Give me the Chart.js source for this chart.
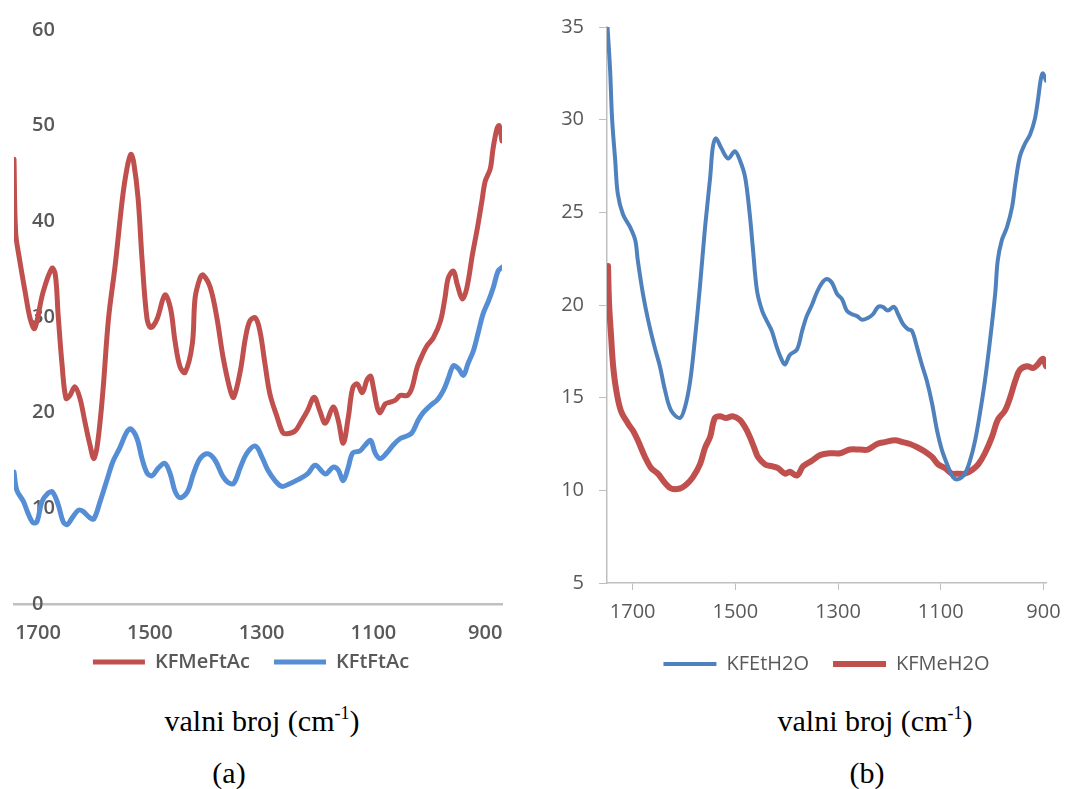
<!DOCTYPE html>
<html>
<head>
<meta charset="utf-8">
<script src="https://cdn.jsdelivr.net/npm/chart.js@4.4.1/dist/chart.umd.min.js"></script>
<style>
  body { margin: 0; width: 1068px; height: 789px; background: #fff; position: relative; overflow: hidden; }
  .wrap { position: absolute; overflow: hidden; }
  .cap { position: absolute; width: 400px; text-align: center; font-family: "Liberation Serif", "Times New Roman", serif; font-size: 30px; line-height: 30px; color: #000; }
  .cap sup { font-size: 18px; line-height: 0; vertical-align: 12px; }
</style>
</head>
<body>
<div class="wrap" style="left:0; top:0; width:520px; height:669px;">
  <canvas id="chartA" width="520" height="682"></canvas>
</div>
<div class="wrap" style="left:540px; top:0; width:528px; height:670px;">
  <canvas id="chartB" width="528" height="684"></canvas>
</div>
<div class="cap" style="left:62px; top:706px;">valni broj (cm<sup>-1</sup>)</div>
<div class="cap" style="left:675px; top:706px;">valni broj (cm<sup>-1</sup>)</div>
<div class="cap" style="left:29px; top:758px;">(a)</div>
<div class="cap" style="left:667px; top:758px;">(b)</div>
<script>
// (a) KFMeFtAc
const wnMeFtAc = [1743, 1740, 1733, 1723, 1714, 1706, 1691, 1675, 1669, 1664,
  1657, 1650, 1643, 1634, 1625, 1616, 1607, 1600, 1593, 1584,
  1574, 1562, 1549, 1541, 1534, 1529, 1521, 1514, 1505, 1498,
  1487, 1473, 1463, 1455, 1446, 1437, 1424, 1419, 1410, 1405,
  1392, 1380, 1369, 1356, 1350, 1338, 1329, 1321, 1311, 1303,
  1294, 1285, 1272, 1262, 1254, 1240, 1228, 1218, 1206, 1196,
  1186, 1172, 1163, 1154, 1145, 1137, 1129, 1120, 1111, 1105,
  1100, 1093, 1088, 1079, 1070, 1061, 1052, 1039, 1031, 1022,
  1012, 1004, 993, 980, 972, 966, 957, 950, 941, 933,
  923, 914, 906, 900, 891, 886, 879, 875, 870];
const valMeFtAc = [46.5, 38.8, 36.0, 32.6, 29.8, 28.8, 32.6, 35.1, 34.4, 30.2,
  25.0, 21.5, 21.8, 22.7, 21.5, 19.0, 16.6, 15.2, 17.0, 22.2,
  29.8, 35.4, 42.4, 45.5, 47.0, 46.2, 42.4, 36.1, 29.8, 28.9,
  29.8, 32.3, 30.9, 27.5, 24.8, 24.2, 27.2, 32.0, 34.1, 34.4,
  33.1, 29.9, 25.8, 22.3, 21.6, 24.4, 27.8, 29.6, 29.9, 28.5,
  25.1, 21.9, 19.5, 17.9, 17.8, 18.1, 19.2, 20.2, 21.6, 20.2,
  18.9, 20.6, 19.2, 16.8, 19.5, 22.6, 23.0, 22.1, 23.5, 23.8,
  22.6, 20.5, 20.0, 20.9, 21.1, 21.3, 21.8, 21.8, 22.6, 24.7,
  26.1, 27.0, 27.8, 29.6, 32.0, 34.1, 34.8, 33.4, 31.9, 33.0,
  36.5, 39.3, 42.1, 44.2, 45.5, 47.6, 49.7, 50.0, 48.4];

// (a) KFtFtAc
const wnEtFtAc = [1743, 1738, 1726, 1718, 1709, 1702, 1693, 1682, 1674, 1664,
  1655, 1648, 1639, 1628, 1620, 1607, 1600, 1589, 1576, 1566,
  1554, 1541, 1534, 1523, 1514, 1505, 1496, 1485, 1473, 1463,
  1455, 1446, 1433, 1422, 1410, 1396, 1383, 1370, 1360, 1350,
  1338, 1326, 1311, 1299, 1289, 1276, 1264, 1249, 1235, 1218,
  1204, 1186, 1172, 1163, 1154, 1145, 1137, 1124, 1115, 1105,
  1097, 1088, 1076, 1065, 1052, 1039, 1031, 1020, 1011, 999,
  985, 975, 966, 957, 948, 939, 931, 921, 912, 904,
  894, 886, 877, 870];
const valEtFtAc = [13.8, 11.9, 10.7, 9.5, 8.5, 8.6, 10.7, 11.6, 11.7, 10.4,
  8.6, 8.3, 9.0, 9.8, 9.7, 9.0, 8.9, 10.7, 13.1, 14.9,
  16.3, 18.0, 18.3, 17.3, 15.2, 13.7, 13.4, 14.2, 14.7, 13.5,
  11.8, 11.1, 11.7, 13.6, 15.2, 15.7, 15.0, 13.4, 12.7, 12.6,
  14.3, 15.8, 16.5, 15.3, 14.0, 12.9, 12.3, 12.6, 13.0, 13.6,
  14.5, 13.6, 14.3, 14.0, 12.9, 14.3, 15.8, 16.0, 16.6, 17.1,
  15.8, 15.2, 15.8, 16.6, 17.3, 17.6, 17.9, 19.2, 20.0, 20.7,
  21.4, 22.3, 23.6, 24.9, 24.6, 23.9, 25.1, 26.5, 28.5, 30.3,
  31.7, 33.0, 34.8, 35.2];

// (b) KFEtH2O
const wnEtH2O = [1749, 1744, 1740, 1734, 1729, 1719, 1705, 1695, 1690, 1680,
  1670, 1657, 1647, 1637, 1625, 1608, 1598, 1588, 1579, 1569,
  1559, 1549, 1544, 1538, 1528, 1514, 1501, 1491, 1481, 1472,
  1466, 1458, 1448, 1438, 1429, 1419, 1409, 1403, 1394, 1380,
  1370, 1361, 1351, 1341, 1331, 1322, 1312, 1302, 1292, 1283,
  1273, 1263, 1253, 1242, 1232, 1222, 1213, 1203, 1191, 1183,
  1174, 1164, 1156, 1146, 1137, 1127, 1117, 1107, 1098, 1086,
  1076, 1066, 1053, 1043, 1033, 1024, 1014, 1004, 994, 989,
  981, 971, 961, 955, 946, 936, 926, 917, 911, 905,
  901, 895];
const valEtH2O = [35.0, 32.7, 30.0, 27.8, 26.0, 24.9, 24.2, 23.5, 22.4, 20.6,
  19.2, 17.7, 16.7, 15.4, 14.3, 13.9, 14.5, 15.9, 18.1, 21.0,
  24.2, 26.9, 28.5, 29.0, 28.5, 27.9, 28.3, 27.8, 26.9, 24.9,
  23.1, 20.8, 19.7, 19.1, 18.6, 17.7, 17.0, 16.8, 17.3, 17.6,
  18.6, 19.4, 20.0, 20.7, 21.2, 21.4, 21.2, 20.6, 20.3, 19.7,
  19.5, 19.4, 19.2, 19.3, 19.5, 19.9, 19.9, 19.7, 19.9, 19.5,
  19.0, 18.7, 18.6, 17.7, 16.8, 15.9, 14.7, 13.2, 12.2, 11.3,
  10.7, 10.6, 10.9, 11.6, 12.7, 14.1, 15.9, 18.1, 20.6, 22.4,
  23.5, 24.2, 25.3, 26.5, 28.0, 28.7, 29.2, 30.0, 31.0, 32.2,
  32.5, 32.1];

// (b) KFMeH2O
const wnMeH2O = [1748, 1746, 1742, 1738, 1732, 1723, 1709, 1699, 1690, 1676,
  1664, 1651, 1637, 1625, 1608, 1596, 1583, 1569, 1559, 1549,
  1540, 1530, 1518, 1505, 1491, 1481, 1472, 1462, 1456, 1442,
  1429, 1417, 1403, 1394, 1380, 1368, 1351, 1335, 1316, 1296,
  1277, 1257, 1242, 1224, 1209, 1189, 1174, 1160, 1144, 1131,
  1117, 1105, 1092, 1078, 1066, 1053, 1039, 1027, 1014, 1000,
  989, 975, 965, 955, 946, 932, 920, 911, 901, 895];
const valMeH2O = [22.1, 20.1, 18.3, 16.7, 15.4, 14.3, 13.6, 13.2, 12.7, 11.8,
  11.2, 10.9, 10.4, 10.1, 10.1, 10.3, 10.7, 11.4, 12.3, 12.9,
  13.9, 14.0, 13.9, 14.0, 13.8, 13.4, 12.9, 12.2, 11.8, 11.4,
  11.3, 11.2, 10.9, 11.0, 10.8, 11.3, 11.6, 11.9, 12.0, 12.0,
  12.2, 12.2, 12.2, 12.5, 12.6, 12.7, 12.6, 12.5, 12.3, 12.1,
  11.8, 11.4, 11.2, 10.9, 10.9, 10.9, 11.1, 11.4, 12.0, 12.9,
  13.8, 14.3, 15.0, 15.9, 16.5, 16.7, 16.6, 16.8, 17.1, 16.7];

const xTickValues = [1700, 1500, 1300, 1100, 900];
const yTicksA = [0, 10, 20, 30, 40, 50, 60];
const yTicksB = [5, 10, 15, 20, 25, 30, 35];

const toPoints = (xs, ys) => xs.map((x, i) => ({ x: x, y: ys[i] }));
const setTicks = (values) => (scale) => {
  scale.ticks = values.map((v) => ({ value: v }));
};
const plain = (v) => String(v);

Chart.defaults.font.family = "'Open Sans', sans-serif";
Chart.defaults.color = "#595959";
Chart.defaults.animation = false;

const labelGrey = "#595959";
const axisGrey = "#bfbfbf";

new Chart(document.getElementById("chartA"), {
  type: "line",
  data: {
    datasets: [
      {
        label: "KFMeFtAc",
        data: toPoints(wnMeFtAc, valMeFtAc),
        borderColor: "#c0504d",
        backgroundColor: "#c0504d",
        borderWidth: 5,
      },
      {
        label: "KFtFtAc",
        data: toPoints(wnEtFtAc, valEtFtAc),
        borderColor: "#558ed5",
        backgroundColor: "#558ed5",
        borderWidth: 5,
      },
    ],
  },
  options: {
    responsive: false,
    elements: { point: { radius: 0 }, line: { tension: 0.35, borderCapStyle: "round" } },
    layout: { padding: { left: 0, right: 18, top: 26, bottom: 0 } },
    plugins: {
      tooltip: { enabled: false },
      legend: {
        position: "bottom",
        labels: {
          usePointStyle: true,
          pointStyle: "line",
          pointStyleWidth: 52,
          padding: 24,
          color: labelGrey,
          font: { size: 20, weight: "600" },
        },
      },
    },
    scales: {
      x: {
        type: "linear",
        reverse: true,
        min: 870,
        max: 1743,
        afterBuildTicks: setTicks(xTickValues),
        afterFit: (s) => { s.height = 24; },
        grid: { display: false, drawTicks: false },
        border: { display: true, color: "#c0c0c0", width: 2.5 },
        // mirrored ticks are not clipped to the short axis box
        ticks: { mirror: true, padding: -41, callback: plain, color: labelGrey, font: { size: 20, weight: "600" } },
      },
      y: {
        min: 0,
        max: 60,
        afterBuildTicks: setTicks(yTicksA),
        afterFit: (s) => { s.width = 14; },
        grid: { display: false, drawTicks: false },
        border: { display: false },
        ticks: { mirror: true, padding: 18, callback: plain, color: labelGrey, font: { size: 20, weight: "600" } },
      },
    },
  },
});

new Chart(document.getElementById("chartB"), {
  type: "line",
  data: {
    datasets: [
      {
        label: "KFEtH2O",
        data: toPoints(wnEtH2O, valEtH2O),
        borderColor: "#4f81bd",
        backgroundColor: "#4f81bd",
        borderWidth: 4,
      },
      {
        label: "KFMeH2O",
        data: toPoints(wnMeH2O, valMeH2O),
        borderColor: "#c0504d",
        backgroundColor: "#c0504d",
        borderWidth: 6,
      },
    ],
  },
  options: {
    responsive: false,
    elements: { point: { radius: 0 }, line: { tension: 0.35, borderCapStyle: "round" } },
    layout: { padding: { left: 0, right: 22, top: 27, bottom: 0 } },
    plugins: {
      tooltip: { enabled: false },
      legend: {
        position: "bottom",
        fullSize: false,
        labels: {
          usePointStyle: true,
          pointStyle: "line",
          pointStyleWidth: 53,
          padding: 24,
          color: labelGrey,
          font: { size: 20 },
        },
      },
    },
    scales: {
      x: {
        type: "linear",
        reverse: true,
        min: 895,
        max: 1750,
        afterBuildTicks: setTicks(xTickValues),
        afterFit: (s) => { s.height = 47; },
        grid: { display: true, drawOnChartArea: false, drawTicks: true, tickLength: 7, color: axisGrey },
        border: { display: true, color: axisGrey, width: 1.5 },
        ticks: { padding: 0, callback: plain, color: labelGrey, font: { size: 20, lineHeight: "44px" } },
      },
      y: {
        min: 5,
        max: 35,
        afterBuildTicks: setTicks(yTicksB),
        afterFit: (s) => { s.width = 67; },
        grid: { display: true, drawOnChartArea: false, drawTicks: true, tickLength: 8, color: axisGrey },
        border: { display: true, color: axisGrey, width: 1.5 },
        ticks: { padding: 15, callback: plain, color: labelGrey, font: { size: 20 } },
      },
    },
  },
});
</script>
</body>
</html>
